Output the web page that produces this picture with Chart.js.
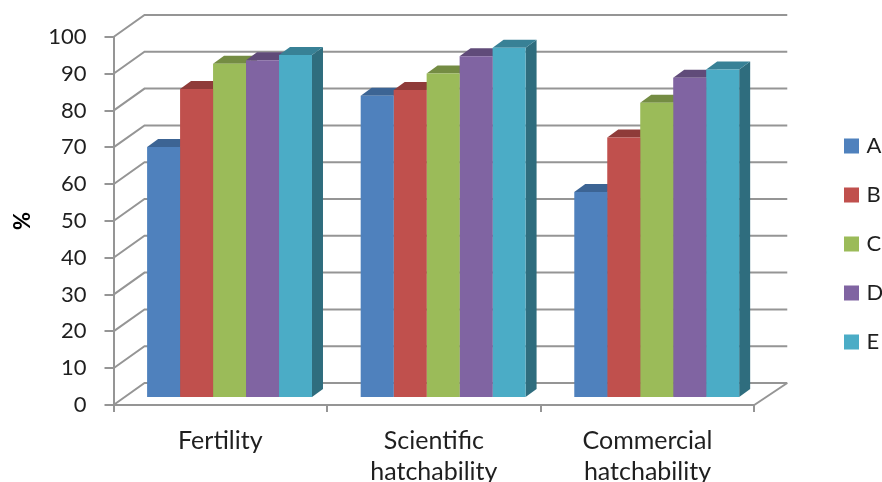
<!DOCTYPE html>
<html>
<head>
<meta charset="utf-8">
<style>
  html, body { margin: 0; padding: 0; background: #fff; overflow: hidden; }
  canvas { display: block; }
</style>
<script src="https://cdn.jsdelivr.net/npm/chart.js@4"></script>
</head>
<body>
<canvas id="hatchChart" width="882" height="482"></canvas>
<script>
const categories = ['Fertility', ['Scientific', 'hatchability'], ['Commercial', 'hatchability']];
const seriesNames = ['A', 'B', 'C', 'D', 'E'];
const seriesA = [68.2, 82.1, 56];
const seriesB = [84, 83.7, 70.8];
const seriesC = [90.8, 88.2, 80.2];
const seriesD = [91.8, 92.9, 87];
const seriesE = [93.2, 95.2, 89.3];
const allSeries = [seriesA, seriesB, seriesC, seriesD, seriesE];

const frontColors = ['#4f81bd', '#c0504d', '#9bbb59', '#8064a2', '#4bacc6'];
const topColors = ['#3c6494', '#8f3b39', '#748c43', '#604b79', '#388196'];
const sideColors = ['#355882', '#7f3432', '#677c3b', '#55426b', '#2f6d7e'];

const GRID = '#959595';
const TEXT = '#1f1f1f';
// oblique offsets of the 3D box
const WALL_DX = 31, WALL_DY = 22;
const BAR_DX = 11, BAR_DY = 8;
const SHIFT_X = 9.25, SHIFT_Y = 7;

function poly(ctx, pts, fill) {
    ctx.beginPath();
    pts.forEach((p, i) => i ? ctx.lineTo(p[0], p[1]) : ctx.moveTo(p[0], p[1]));
    ctx.closePath();
    ctx.fillStyle = fill;
    ctx.fill();
}

const box3d = {
    id: 'box3d',
    afterLayout(chart) {
        // legend sits in its own narrow column at the right
        const lg = chart.legend;
        lg.left = 820.5;
        lg.right = 882;
        lg.top = 108;
        lg.bottom = 482;
    },
    beforeDatasetsDraw(chart) {
        const ctx = chart.ctx;
        const { left, right, bottom } = chart.chartArea;
        const y = chart.scales.y;

        // back wall, side wall and floor lines
        ctx.save();
        ctx.strokeStyle = GRID;
        ctx.lineWidth = 2;
        y.ticks.forEach(t => {
            const py = y.getPixelForValue(t.value);
            ctx.beginPath();
            ctx.moveTo(left, py);
            ctx.lineTo(left + WALL_DX, py - WALL_DY);
            ctx.lineTo(right + WALL_DX + 2, py - WALL_DY);
            ctx.stroke();
        });
        ctx.beginPath();
        ctx.moveTo(right + WALL_DX + 2, bottom - WALL_DY);
        ctx.lineTo(right, bottom);
        ctx.stroke();
        ctx.restore();

        // side and top faces go first, A to E, so nearer faces cover them
        chart.data.datasets.forEach((ds, i) => {
            chart.getDatasetMeta(i).data.forEach(bar => {
                const x0 = bar.x - bar.width / 2 + SHIFT_X;
                const x1 = bar.x + bar.width / 2 + SHIFT_X;
                const top = bar.y - SHIFT_Y;
                const base = bar.base - SHIFT_Y;
                poly(ctx, [[x1, top], [x1 + BAR_DX, top - BAR_DY], [x1 + BAR_DX, base - BAR_DY], [x1, base]], sideColors[i]);
                poly(ctx, [[x0, top], [x0 + BAR_DX, top - BAR_DY], [x1 + BAR_DX, top - BAR_DY], [x1, top]], topColors[i]);
            });
        });

        // front faces are drawn by Chart.js, pushed back off the floor edge
        ctx.save();
        ctx.translate(SHIFT_X, -SHIFT_Y);
    },
    afterDatasetsDraw(chart) {
        chart.ctx.restore();
    }
};

new Chart(document.getElementById('hatchChart'), {
    type: 'bar',
    data: {
        labels: categories,
        datasets: seriesNames.map((name, i) => ({
            label: name,
            data: allSeries[i],
            backgroundColor: frontColors[i],
            borderWidth: 0,
            barPercentage: 1,
            categoryPercentage: 0.772
        }))
    },
    options: {
        responsive: false,
        animation: false,
        layout: { padding: { left: 0, top: 37, right: 55, bottom: 0 } },
        plugins: {
            tooltip: { enabled: false },
            legend: {
                position: 'right',
                align: 'start',
                labels: {
                    usePointStyle: true,
                    pointStyle: 'rect',
                    boxWidth: 8,
                    boxHeight: 15,
                    padding: 27,
                    color: TEXT,
                    font: { family: 'Lato', size: 22 }
                }
            }
        },
        scales: {
            x: {
                afterFit(scale) { scale.height = 77; },
                grid: { drawOnChartArea: false, color: GRID, lineWidth: 2, tickLength: 7, offset: true },
                border: { color: GRID, width: 2 },
                ticks: {
                    color: TEXT,
                    padding: 14,
                    maxRotation: 0,
                    font: { family: 'Lato', size: 25, lineHeight: 1.22 }
                }
            },
            y: {
                min: 0,
                max: 100,
                afterFit(scale) { scale.width = 113.5; },
                grid: { drawOnChartArea: false, color: GRID, lineWidth: 2, tickLength: 9 },
                border: { color: GRID, width: 2 },
                ticks: {
                    stepSize: 10,
                    color: TEXT,
                    padding: 18,
                    font: { family: 'Lato', size: 22 }
                },
                title: {
                    display: true,
                    text: '%',
                    color: '#000',
                    padding: { top: 10, bottom: 0 },
                    font: { family: 'Lato', size: 22, weight: 'bold' }
                }
            }
        }
    },
    plugins: [box3d]
});
</script>
</body>
</html>
